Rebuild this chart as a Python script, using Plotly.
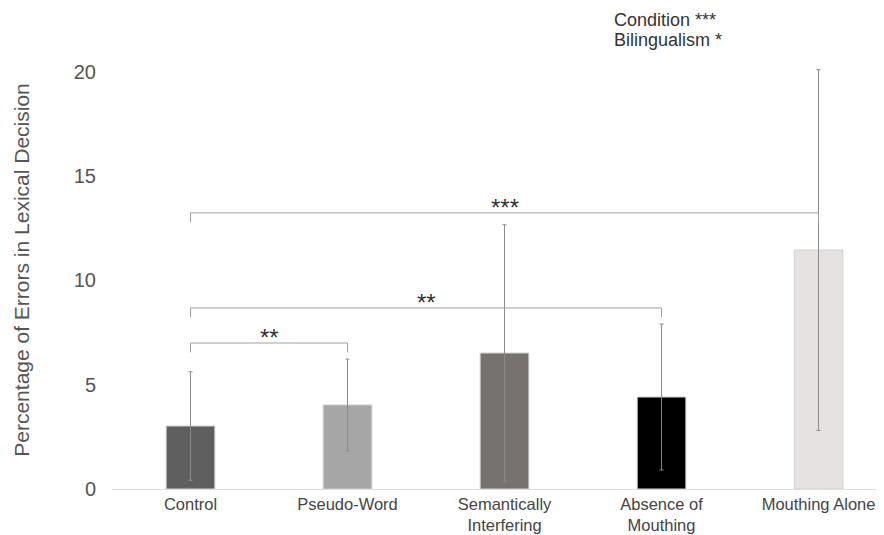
import plotly.graph_objects as go

categories = ["Control", "Pseudo-Word", "Semantically<br>Interfering", "Absence of<br>Mouthing", "Mouthing Alone"]
means = [3.02, 4.03, 6.52, 4.41, 11.46]
errors = [2.6, 2.2, 6.15, 3.5, 8.65]
bar_colors = ["#5f5f5f", "#a6a6a6", "#77716f", "#000000", "#e6e2e2"]

# significance brackets: (from category index, to category index, bracket height, label)
bracket_from = [0, 0, 0]
bracket_to = [1, 3, 4]
bracket_y = [7.0, 8.68, 13.24]
bracket_labels = ["**", "**", "***"]
bracket_drop = 0.45

effect_lines = ["Condition ***", "Bilingualism *"]

y_ticks = [0, 5, 10, 15, 20]

fig = go.Figure()
fig.add_trace(go.Bar(
    x=categories, y=means, width=0.31,
    marker=dict(color=bar_colors, line=dict(color="#d0d0d0", width=1)),
    error_y=dict(type="data", array=errors, visible=True, color="#8a8a8a", thickness=1, width=2),
    showlegend=False, hoverinfo="skip",
))

for a, b, h, lab in zip(bracket_from, bracket_to, bracket_y, bracket_labels):
    fig.add_trace(go.Scatter(
        x=[a, a, b, b], y=[h - bracket_drop, h, h, h - bracket_drop],
        mode="lines", line=dict(color="#a0a0a0", width=1),
        showlegend=False, hoverinfo="skip", xaxis="x2",
    ))
    fig.add_annotation(x=(a + b) / 2, y=h, xref="x2", yref="y", text=lab,
                       showarrow=False, yanchor="bottom", yshift=-10,
                       font=dict(size=24, color="#333333"))

for i, line in enumerate(effect_lines):
    fig.add_annotation(xref="paper", yref="paper", x=(604 - 104) / 772, y=1.0,
                       yshift=31 - 20 * i, xanchor="left", yanchor="middle",
                       text=line, showarrow=False,
                       font=dict(size=18, color="#333333"))

fig.update_layout(
    width=876, height=527,
    margin=dict(l=104, r=0, t=43, b=46, autoexpand=False),
    plot_bgcolor="white", paper_bgcolor="white",
    font=dict(family="Liberation Sans, Arial, sans-serif", color="#444444"),
    xaxis=dict(range=[-0.5, 4.417], showgrid=False, zeroline=False, automargin=False,
               showline=True, linecolor="#dddddd", linewidth=1,
               tickfont=dict(size=16.5, color="#444444"), ticks=""),
    xaxis2=dict(range=[-0.5, 4.417], overlaying="x", visible=False),
    yaxis=dict(range=[0, 21], tickvals=y_ticks, showgrid=False, zeroline=False, automargin=False,
               showline=False, tickfont=dict(size=20, color="#555555"),
               ticklabelstandoff=15,
               title=dict(text="Percentage of Errors in Lexical Decision",
                          font=dict(size=21, color="#555555"), standoff=38)),
)

fig.write_html("out.html")
